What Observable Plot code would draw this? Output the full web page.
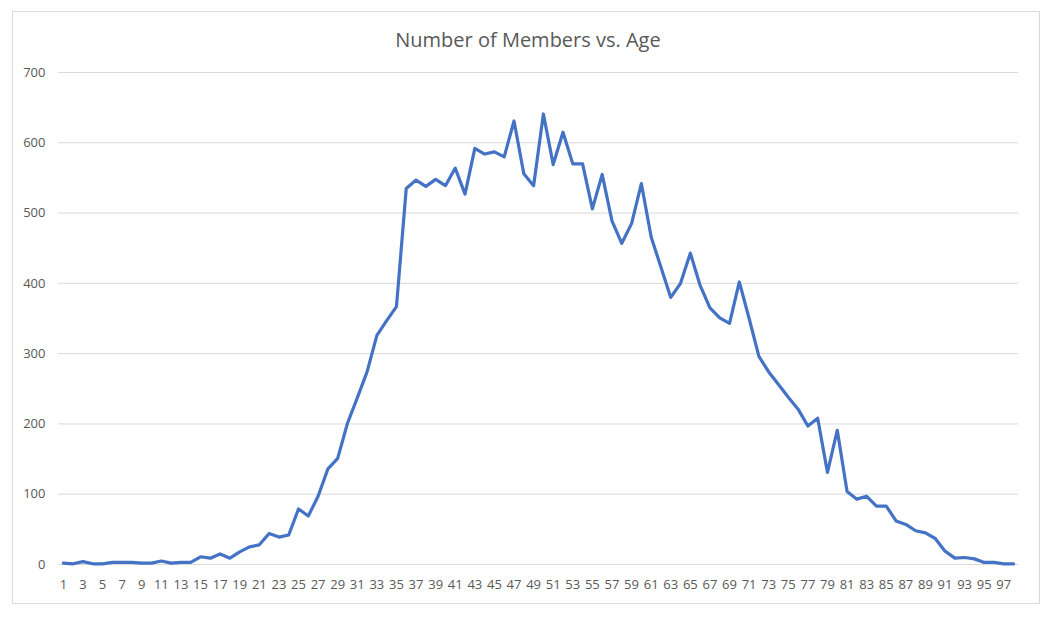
<!DOCTYPE html>
<html>
<head>
<meta charset="utf-8">
<script src="https://cdn.jsdelivr.net/npm/d3@7"></script>
<script src="https://cdn.jsdelivr.net/npm/@observablehq/plot@0.6"></script>
<style>
  body { margin: 0; background: #fff; }
  #wrap { position: relative; width: 1056px; height: 619px; overflow: hidden; }
  #frame { position: absolute; left: 12px; top: 11px; width: 1026px; height: 591px; border: 1px solid #d9d9d9; }
  #title { position: absolute; left: 0; width: 1056px; top: 26px; text-align: center;
           font: 20px "Open Sans", sans-serif; color: #595959; }
  #chart { position: absolute; left: 0; top: 0; }
</style>
</head>
<body>
<div id="wrap">
  <div id="frame"></div>
  <div id="chart"></div>
  <div id="title">Number of Members vs. Age</div>
</div>
<script>
// ----------------- data -----------------
const ages = d3.range(1, 99);
const members = [
  2, 1, 4, 1, 1, 3, 3, 3, 2, 2,
  5, 2, 3, 3, 11, 9, 15, 9, 18, 25,
  28, 44, 39, 42, 79, 69, 97, 136, 151, 201,
  237, 274, 326, 347, 367, 535, 547, 538, 548, 539,
  564, 527, 592, 584, 587, 580, 631, 556, 539, 641,
  569, 615, 570, 570, 506, 555, 489, 457, 485, 542,
  466, 423, 380, 400, 443, 397, 365, 351, 343, 402,
  350, 296, 274, 256, 238, 221, 197, 208, 131, 191,
  104, 93, 97, 83, 83, 62, 57, 48, 45, 37,
  19, 9, 10, 8, 3, 3, 1, 1
];
const yTicks = [0, 100, 200, 300, 400, 500, 600, 700];
const xTicks = ages.filter(a => a % 2 === 1);

const data = ages.map((age, i) => ({ age, value: members[i] }));

// --------------- chart -----------------
const fig = Plot.plot({
  width: 1056, height: 619,
  marginLeft: 58, marginRight: 38, marginTop: 72, marginBottom: 55,
  style: { fontFamily: "'Open Sans', sans-serif", fontSize: "13px", color: "#595959", background: "transparent" },
  x: { domain: [0.5, 98.5], ticks: xTicks, tickSize: 0, tickPadding: 15, label: null, tickFormat: d => d },
  y: { domain: [0, 700], ticks: yTicks, tickSize: 0, tickPadding: 13, label: null },
  marks: [
    Plot.gridY(yTicks, { stroke: "#d9d9d9", strokeOpacity: 1 }),
    Plot.lineY(data, { x: "age", y: "value", stroke: "#4472C4", strokeWidth: 3.2, strokeLinejoin: "round", strokeLinecap: "round" })
  ]
});
document.getElementById("chart").appendChild(fig);
</script>
</body>
</html>
